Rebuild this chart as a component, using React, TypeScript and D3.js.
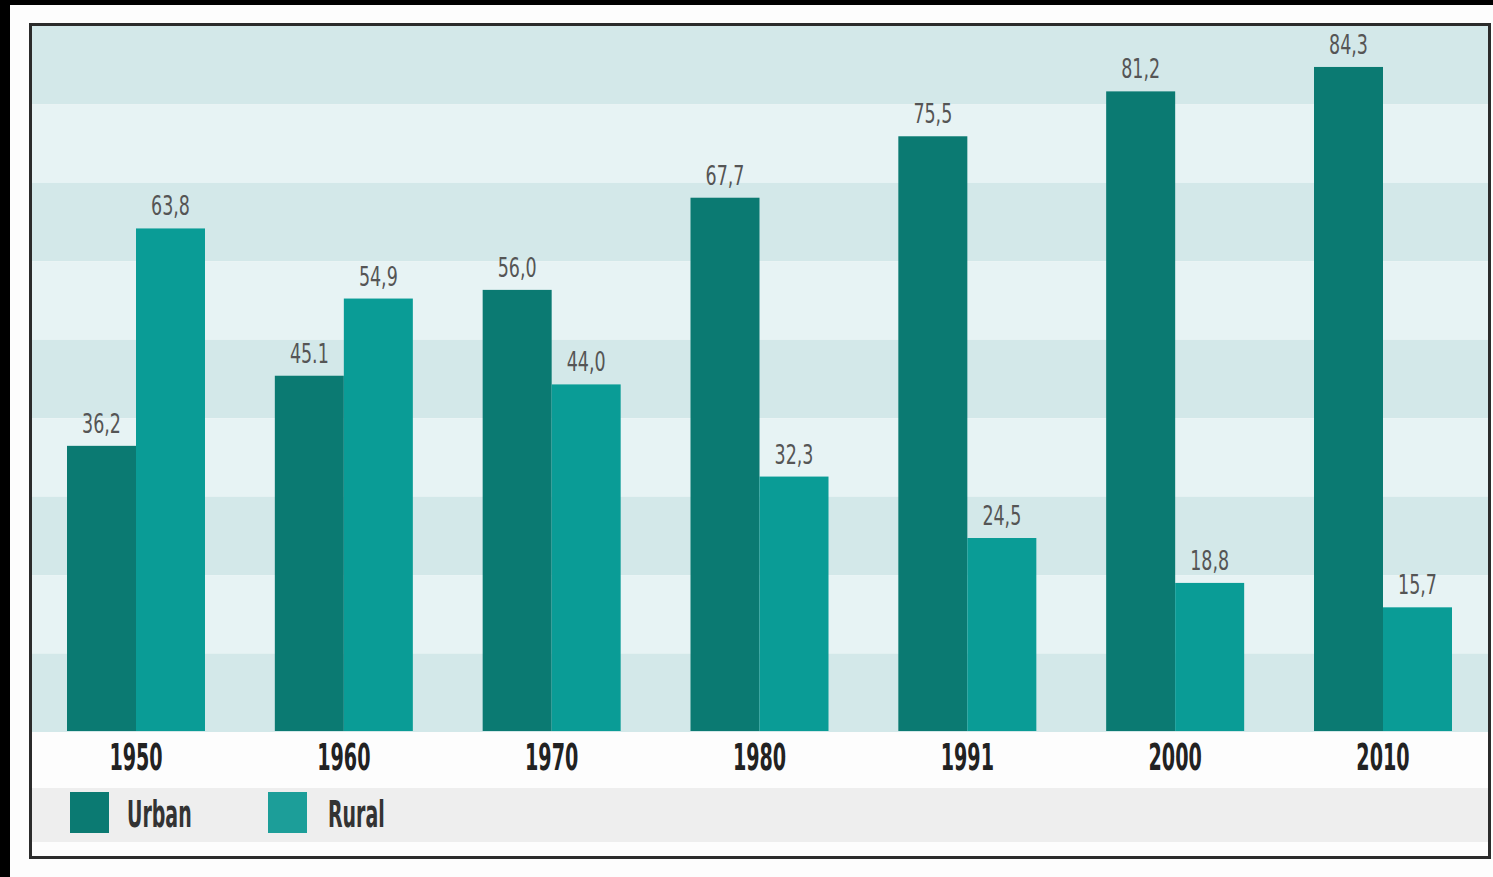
import React from "react";
import * as d3 from "d3";

const years = ["1950", "1960", "1970", "1980", "1991", "2000", "2010"];
const urban = [36.2, 45.1, 56.0, 67.7, 75.5, 81.2, 84.3];
const rural = [63.8, 54.9, 44.0, 32.3, 24.5, 18.8, 15.7];
const urbanLabels = ["36,2", "45.1", "56,0", "67,7", "75,5", "81,2", "84,3"];
const ruralLabels = ["63,8", "54,9", "44,0", "32,3", "24,5", "18,8", "15,7"];
const seriesNames = ["Urban", "Rural"];

const W = 1493;
const H = 877;
const URBAN_C = "#0b7a72";
const RURAL_C = "#0a9c96";
const FONT = "'Liberation Sans Narrow', 'DejaVu Sans Condensed', 'Roboto', sans-serif";

export default function App() {
  const plotL = 32, plotR = 1488, plotT = 26, plotB = 732;
  const x0 = d3.scaleBand<string>().domain(years).range([67, 1452]).paddingInner(0.336).paddingOuter(0);
  const x1 = d3.scaleBand<string>().domain(["u", "r"]).range([0, x0.bandwidth()]);
  const y = d3.scaleLinear().domain([0, 89.5]).range([731, 26]);
  const nBands = 9;
  const bandH = (plotB - plotT) / nBands;
  const bands = d3.range(nBands);

  const series = [
    { key: "u", vals: urban, labels: urbanLabels, color: URBAN_C },
    { key: "r", vals: rural, labels: ruralLabels, color: RURAL_C },
  ];

  const condensed = (cx: number, cy: number, sx: number) =>
    `translate(${cx},${cy}) scale(${sx},1)`;

  const legendX = [70, 268];
  const legendTextX = [127, 328];

  return (
    <svg width={W} height={H} style={{ position: "absolute", left: 0, top: 0 }}>
      <rect x={0} y={0} width={W} height={H} fill="#000" />
      <rect x={10} y={5} width={W - 10} height={H - 5} fill="#fdfdfd" />
      {bands.map((i) => (
        <rect
          key={"b" + i}
          x={plotL}
          y={plotT + i * bandH}
          width={plotR - plotL}
          height={bandH}
          fill={i % 2 === 0 ? "#d3e8e9" : "#e7f3f4"}
        />
      ))}
      <rect x={32} y={788} width={1456} height={54} fill="#eeeeee" />
      {series.map((s) =>
        years.map((yr, i) => {
          const bx = (x0(yr) as number) + (x1(s.key) as number);
          const bw = x1.bandwidth();
          const top = y(s.vals[i]);
          return (
            <g key={s.key + yr}>
              <rect x={bx} y={top} width={bw} height={y(0) - top} fill={s.color} />
              <text
                transform={condensed(bx + bw / 2, top - 13, 0.72)}
                textAnchor="middle"
                fontFamily={FONT}
                fontSize={27}
                fill="#555"
              >
                {s.labels[i]}
              </text>
            </g>
          );
        })
      )}
      {years.map((yr) => (
        <text
          key={"y" + yr}
          transform={condensed((x0(yr) as number) + x0.bandwidth() / 2, 770, 0.56)}
          textAnchor="middle"
          fontFamily={FONT}
          fontWeight="bold"
          fontSize={38}
          fill="#222"
        >
          {yr}
        </text>
      ))}
      {seriesNames.map((name, i) => (
        <g key={name}>
          <rect x={legendX[i]} y={792} width={39} height={41} fill={i === 0 ? URBAN_C : "#1c9e99"} />
          <text
            transform={condensed(legendTextX[i], 827, 0.57)}
            fontFamily={FONT}
            fontWeight="bold"
            fontSize={37}
            fill="#333"
          >
            {name}
          </text>
        </g>
      ))}
      <rect x={30.5} y={24.5} width={1459} height={833} fill="none" stroke="#2b2b2b" strokeWidth={3} />
    </svg>
  );
}
